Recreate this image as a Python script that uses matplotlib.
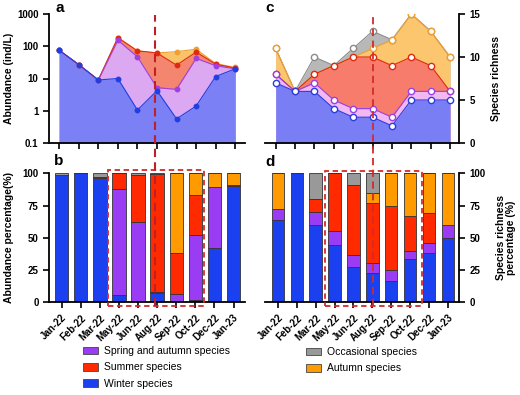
import numpy as np
import matplotlib.pyplot as plt
from matplotlib.patches import Rectangle, Patch

plt.rcParams['font.family'] = ['Liberation Sans', 'DejaVu Sans']

### Data ###
months = ["Jan-22", "Feb-22", "Mar-22", "May-22", "Jun-22", "Aug-22",
          "Sep-22", "Oct-22", "Dec-22", "Jan-23"]

# panel a - abundance (ind/L), cumulative stacked tops
abund_winter = [75, 27, 9, 10, 1.05, 4.2, 0.56, 1.4, 11.5, 20]
abund_spring_autumn = [75, 27, 9, 153, 47, 5.2, 4.6, 42, 25, 20]
abund_summer = [75, 27, 9, 185, 72, 62, 26, 66, 28, 21]
abund_autumn = [75, 27, 9, 185, 72, 62, 68, 81, 29, 22]

# panel b - abundance percentage (%)
pct_winter = [98.5, 100, 96.5, 5.7, 1.0, 7.0, 0.5, 1.5, 42.0, 90.5]
pct_spring_autumn = [0, 0, 0, 82.0, 61.0, 1.0, 6.0, 50.8, 47.0, 0]
pct_summer = [0, 0, 1.0, 12.3, 36.5, 91.2, 31.5, 31.0, 0.5, 0.5]
pct_autumn = [0, 0, 0, 0, 0, 0, 62.0, 16.7, 10.5, 9.0]
pct_occasional = [1.5, 0, 2.5, 0, 1.5, 0.8, 0, 0, 0, 0]

# panel c - species richness, cumulative stacked tops
rich_winter = [7, 6, 6, 4, 3, 3, 2, 5, 5, 5]
rich_spring_autumn = [8, 6, 7, 5, 4, 4, 3, 6, 6, 6]
rich_summer = [8, 6, 8, 9, 10, 10, 9, 10, 9, 6]
rich_autumn = [11, 6, 8, 9, 10, 11, 12, 15, 13, 10]
rich_occasional = [11, 6, 10, 9, 11, 13, 12, 15, 13, 10]

# panel d - species richness percentage (%)
rpct_winter = [63.6, 100, 60.0, 44.4, 27.3, 23.1, 16.7, 33.3, 38.5, 50.0]
rpct_spring_autumn = [9.1, 0, 10.0, 11.1, 9.1, 7.7, 8.3, 6.7, 7.7, 10.0]
rpct_summer = [0, 0, 10.0, 44.4, 54.5, 46.2, 50.0, 26.7, 23.1, 0]
rpct_autumn = [27.3, 0, 0, 0, 0, 7.7, 25.0, 33.3, 30.8, 40.0]
rpct_occasional = [0, 0, 20.0, 0, 9.1, 15.4, 0, 0, 0, 0]

### Colours ###
c_blue, c_purple, c_red, c_orange, c_gray = "#1a40f0", "#9b3cf5", "#ff2a00", "#ff9a00", "#999999"

x = np.arange(len(months))

fig = plt.figure(figsize=(5.2, 3.95), dpi=100)
ax_a = fig.add_axes([49/520, 1-143/395, 196/520, 129/395])
ax_b = fig.add_axes([49/520, 1-302.3/395, 196/520, 129/395])
ax_c = fig.add_axes([265/520, 1-143/395, 194/520, 129/395])
ax_d = fig.add_axes([265/520, 1-302.3/395, 194/520, 129/395])

tick_font = dict(fontsize=7, fontweight="bold")


def style_axis(ax, side):
    for s in ["top", "left", "right", "bottom"]:
        ax.spines[s].set_visible(False)
    ax.spines["bottom"].set_visible(True)
    ax.spines[side].set_visible(True)
    for s in ["bottom", side]:
        ax.spines[s].set_linewidth(1.3)
    ax.tick_params(width=1.2, length=4, direction="out")
    ax.set_xticks(x)
    if side == "right":
        ax.yaxis.tick_right()
        ax.yaxis.set_label_position("right")


### Panel a ###
bottom = 0.1
layers_a = [
    (abund_autumn, "#f9c36a", "#f0a030"),
    (abund_summer, "#f4866f", "#e02a10"),
    (abund_spring_autumn, "#dca8f2", "#a040e0"),
    (abund_winter, "#7b80f5", "#1f3fe0"),
]
for vals, fill, edge in layers_a:
    ax_a.fill_between(x, bottom, vals, color=fill, lw=0)
    ax_a.plot(x, vals, color=edge, lw=0.8, marker="o", ms=3.2, mfc=edge, mec=edge)
ax_a.set_yscale("log")
ax_a.set_ylim(0.1, 1000)
ax_a.set_xlim(-0.52, 9.5)
ax_a.set_yticks([0.1, 1, 10, 100, 1000])
ax_a.set_yticklabels(["0.1", "1", "10", "100", "1000"], **tick_font)
ax_a.minorticks_off()
style_axis(ax_a, "left")
ax_a.set_xticklabels([])
ax_a.set_ylabel("Abundance (ind/L)", fontsize=7.5, fontweight="bold")
ax_a.yaxis.set_label_coords(-0.18, 0.5)

### Panel b ###
w = 0.7
stack_b = [(pct_winter, c_blue), (pct_spring_autumn, c_purple), (pct_summer, c_red),
           (pct_autumn, c_orange), (pct_occasional, c_gray)]
base = np.zeros(len(months))
for vals, col in stack_b:
    ax_b.bar(x, vals, w, bottom=base, color=col, edgecolor="#333333", lw=0.6)
    base += np.array(vals)
ax_b.set_ylim(0, 100)
ax_b.set_xlim(-0.66, 9.6)
ax_b.set_yticks([0, 25, 50, 75, 100])
ax_b.set_yticklabels(["0", "25", "50", "75", "100"], **tick_font)
style_axis(ax_b, "left")
ax_b.set_xticklabels(months, rotation=45, ha="right", rotation_mode="anchor", **tick_font)
ax_b.set_ylabel("Abundance percentage(%)", fontsize=7.5, fontweight="bold")
ax_b.yaxis.set_label_coords(-0.18, 0.5)

### Panel c ###
layers_c = [
    (rich_occasional, "#b8b8b8", "#8a8a8a"),
    (rich_autumn, "#fbc66e", "#f0a030"),
    (rich_summer, "#f77c6c", "#e02a10"),
    (rich_spring_autumn, "#f2b8f2", "#9a40e8"),
    (rich_winter, "#7a7ef5", "#2a3ee0"),
]
for vals, fill, edge in layers_c:
    ax_c.fill_between(x, 0, vals, color=fill, lw=0)
    ax_c.plot(x, vals, color=edge, lw=0.8, marker="o", ms=4.5, mfc="white", mec=edge, mew=1.0)
ax_c.set_ylim(0, 15)
ax_c.set_xlim(-0.55, 9.46)
ax_c.set_yticks([0, 5, 10, 15])
ax_c.set_yticklabels(["0", "5", "10", "15"], **tick_font)
style_axis(ax_c, "right")
ax_c.set_xticklabels([])
ax_c.set_ylabel("Species richness", fontsize=7.5, fontweight="bold")
ax_c.yaxis.set_label_coords(1.165, 0.5)

### Panel d ###
stack_d = [(rpct_winter, c_blue), (rpct_spring_autumn, c_purple), (rpct_summer, c_red),
           (rpct_autumn, c_orange), (rpct_occasional, c_gray)]
base = np.zeros(len(months))
for vals, col in stack_d:
    ax_d.bar(x, vals, 0.66, bottom=base, color=col, edgecolor="#333333", lw=0.6)
    base += np.array(vals)
ax_d.set_ylim(0, 100)
ax_d.set_xlim(-0.68, 9.59)
ax_d.set_yticks([0, 25, 50, 75, 100])
ax_d.set_yticklabels(["0", "25", "50", "75", "100"], **tick_font)
style_axis(ax_d, "right")
ax_d.set_xticklabels(months, rotation=45, ha="right", rotation_mode="anchor", **tick_font)
ax_d.set_ylabel("Species richness\npercentage (%)", fontsize=7.5, fontweight="bold",
                rotation=90, linespacing=1.05)
ax_d.yaxis.set_label_coords(1.19, 0.5)

### Dashed guides ###
dash_col = "#d42a2a"
ax_b.add_patch(Rectangle((2.44, -2.6), 5.03, 105.1, fill=False, ls=(0, (3, 2)),
                         ec=dash_col, lw=1.3, clip_on=False, zorder=5))
ax_b.plot([4.88, 4.88], [-2.6, 223], color="#c01f28", ls=(0, (4, 2.5)), lw=1.5,
          clip_on=False, zorder=6)
ax_d.add_patch(Rectangle((2.5, -2.6), 5.15, 104.4, fill=False, ls=(0, (3, 2)),
                         ec=dash_col, lw=1.3, clip_on=False, zorder=5))
ax_d.plot([5.02, 5.02], [-2.6, 224], color="#d42a2a", ls=(0, (4, 2.5)), lw=1.3,
          clip_on=False, zorder=6)

### Panel letters ###
for lbl, px, py in [("a", 55, 8), ("b", 54, 161), ("c", 265, 8), ("d", 265, 162)]:
    fig.text(px/520, 1-py/395, lbl, fontsize=11, fontweight="bold", va="center", ha="left")

### Legends ###
def handle(col):
    return Patch(facecolor=col, edgecolor="#444444", lw=0.6)

leg1 = fig.legend([handle(c_purple), handle(c_red), handle(c_blue)],
                  ["Spring and autumn species", "Summer species", "Winter species"],
                  loc="upper left", bbox_to_anchor=(80/520, 1-343/395), frameon=False,
                  fontsize=7.5, handlelength=1.4, handleheight=0.8, labelspacing=0.6,
                  handletextpad=0.6, borderaxespad=0, borderpad=0.3)
leg2 = fig.legend([handle(c_gray), handle(c_orange)],
                  ["Occasional species", "Autumn species"],
                  loc="upper left", bbox_to_anchor=(303/520, 1-344/395), frameon=False,
                  fontsize=7.5, handlelength=1.4, handleheight=0.8, labelspacing=0.6,
                  handletextpad=0.6, borderaxespad=0, borderpad=0.3)

fig.savefig("out.png", dpi=100)
